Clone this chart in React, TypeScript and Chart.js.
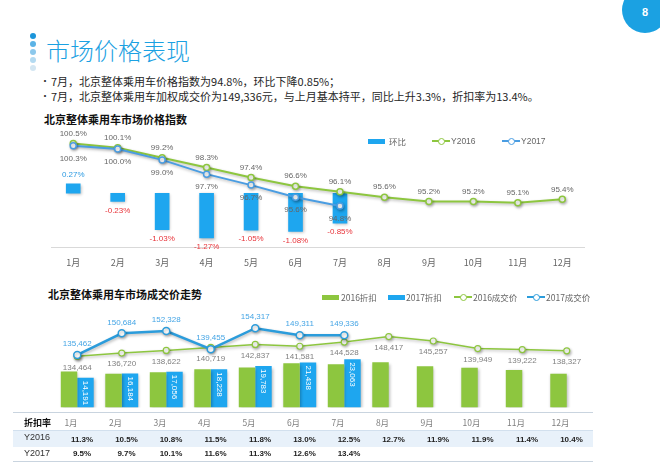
import React, { useEffect, useRef } from "react";
import { Chart, registerables } from "chart.js";
Chart.register(...registerables);

const months = ["1月", "2月", "3月", "4月", "5月", "6月", "7月", "8月", "9月", "10月", "11月", "12月"];
const index2016 = [100.5, 100.1, 99.2, 98.3, 97.4, 96.6, 96.1, 95.6, 95.2, 95.2, 95.1, 95.4];
const index2017 = [100.3, 100.0, 99.0, 97.7, 96.7, 95.6, 94.8];
const momChange = [0.27, -0.23, -1.03, -1.27, -1.05, -1.08, -0.85];
const price2016 = [134464, 136720, 138622, 140719, 142837, 141581, 144528, 148417, 145257, 139949, 139222, 138327];
const price2017 = [135462, 150684, 152328, 139455, 154317, 149311, 149336];
const discount2016 = [17130, 16040, 16780, 18290, 19110, 21160, 20650, 21590, 19620, 18900, 17910, 16060];
const discount2017 = [14191, 16184, 17056, 18228, 19783, 21438, 23063];
const rate2016 = ["11.3%", "10.5%", "10.8%", "11.5%", "11.8%", "13.0%", "12.5%", "12.7%", "11.9%", "11.9%", "11.4%", "10.4%"];
const rate2017 = ["9.5%", "9.7%", "10.1%", "11.6%", "11.3%", "12.6%", "13.4%"];

const FONT = "'Liberation Sans', Arial, 'Noto Sans CJK SC', sans-serif";
const CJK = "'Noto Sans CJK SC', 'Liberation Sans', sans-serif";

const GREEN = "#8DC63F";
const BLUE_BAR = "#1EA6EF";
const BLUE_LINE_TOP = "#4A9DE2";
const BLUE_LINE_BOT = "#2B9CDB";

const shadowPlugin = {
  id: "shadow",
  beforeDatasetDraw(chart: any) {
    const ctx = chart.ctx;
    ctx.save();
    ctx.shadowColor = "rgba(0,0,0,0.28)";
    ctx.shadowBlur = 3;
    ctx.shadowOffsetX = 1;
    ctx.shadowOffsetY = 1.5;
  },
  afterDatasetDraw(chart: any) {
    chart.ctx.restore();
  },
};

function TopChart() {
  const ref = useRef<HTMLCanvasElement>(null);
  useEffect(() => {
    const labels = {
      id: "labelsTop",
      afterDatasetsDraw(chart: any) {
        const ctx = chart.ctx;
        ctx.save();
        ctx.font = `8px ${FONT}`;
        ctx.textAlign = "center";
        ctx.textBaseline = "middle";
        chart.data.datasets.forEach((ds: any, i: number) => {
          const meta = chart.getDatasetMeta(i);
          meta.data.forEach((el: any, j: number) => {
            const v = ds.data[j];
            if (v == null) return;
            if (i === 0) {
              if (v >= 0) {
                ctx.fillStyle = "#2D9BE2";
                ctx.fillText(v.toFixed(2) + "%", el.x, el.y - 9);
              } else {
                ctx.fillStyle = "#E8343A";
                ctx.fillText(v.toFixed(2) + "%", el.x, el.y + 9);
              }
            } else if (i === 1) {
              ctx.fillStyle = "#666666";
              ctx.fillText(v.toFixed(1) + "%", el.x, el.y - 10);
            } else {
              ctx.fillStyle = "#666666";
              ctx.fillText(v.toFixed(1) + "%", el.x, el.y + 13);
            }
          });
        });
        ctx.restore();
      },
    };
    const chart = new Chart(ref.current!, {
      type: "bar",
      data: {
        labels: months,
        datasets: [
          {
            type: "bar",
            label: "环比",
            data: momChange,
            backgroundColor: BLUE_BAR,
            barThickness: 14,
            yAxisID: "yBar",
            order: 3,
          } as any,
          {
            type: "line",
            label: "Y2016",
            data: index2016,
            borderColor: GREEN,
            borderWidth: 2,
            backgroundColor: "#ffffff",
            pointBackgroundColor: "#ffffff",
            pointBorderColor: GREEN,
            pointBorderWidth: 1.5,
            pointRadius: 3,
            tension: 0,
            yAxisID: "yLine",
            order: 2,
          },
          {
            type: "line",
            label: "Y2017",
            data: index2017,
            borderColor: BLUE_LINE_TOP,
            borderWidth: 2,
            backgroundColor: "#ffffff",
            pointBackgroundColor: "#ffffff",
            pointBorderColor: BLUE_LINE_TOP,
            pointBorderWidth: 1.5,
            pointRadius: 3,
            tension: 0,
            yAxisID: "yLine",
            order: 1,
          },
        ],
      },
      options: {
        responsive: false,
        animation: false,
        devicePixelRatio: 1,
        layout: { padding: { left: 51, right: 75.5, top: 5, bottom: 0 } },
        plugins: { legend: { display: false }, tooltip: { enabled: false } },
        scales: {
          x: {
            offset: true,
            grid: { display: false, drawTicks: false },
            border: { display: true, color: "#D9D9D9", width: 1 },
            ticks: { color: "#666666", font: { size: 9, family: CJK }, padding: 10 },
            afterFit: (axis: any) => {
              axis.height = 33;
            },
          },
          yBar: { display: false, min: -1.525, max: 1.921 },
          yLine: { display: false, min: 91.05, max: 102.14 },
        },
      } as any,
      plugins: [shadowPlugin, labels],
    });
    return () => chart.destroy();
  }, []);
  return (
    <canvas
      ref={ref}
      width={660}
      height={160}
      style={{ position: "absolute", left: 0, top: 120, width: 660, height: 160 }}
    />
  );
}

function BottomChart() {
  const ref = useRef<HTMLCanvasElement>(null);
  useEffect(() => {
    const labels = {
      id: "labelsBottom",
      afterDatasetsDraw(chart: any) {
        const ctx = chart.ctx;
        ctx.save();
        ctx.textBaseline = "middle";
        chart.data.datasets.forEach((ds: any, i: number) => {
          const meta = chart.getDatasetMeta(i);
          meta.data.forEach((el: any, j: number) => {
            const v = ds.data[j];
            if (v == null) return;
            const txt = v.toLocaleString("en-US");
            if (i === 1) {
              ctx.save();
              ctx.font = `8px ${FONT}`;
              ctx.fillStyle = "#ffffff";
              ctx.textAlign = "left";
              ctx.translate(el.x, el.y + 3);
              ctx.rotate(Math.PI / 2);
              ctx.fillText(txt, 0, 0);
              ctx.restore();
            } else if (i === 2) {
              ctx.font = `8px ${FONT}`;
              ctx.textAlign = "center";
              ctx.fillStyle = "#808080";
              ctx.fillText(txt, el.x, el.y + 11);
            } else if (i === 3) {
              ctx.font = `8px ${FONT}`;
              ctx.textAlign = "center";
              ctx.fillStyle = "#45A5E5";
              ctx.fillText(txt, el.x, el.y - 11);
            }
          });
        });
        ctx.restore();
      },
    };
    const chart = new Chart(ref.current!, {
      type: "bar",
      data: {
        labels: months,
        datasets: [
          {
            type: "bar",
            label: "2016折扣",
            data: discount2016,
            backgroundColor: GREEN,
            categoryPercentage: 0.74,
            barPercentage: 1,
            yAxisID: "yBar",
            order: 3,
          } as any,
          {
            type: "bar",
            label: "2017折扣",
            data: discount2017,
            backgroundColor: BLUE_BAR,
            categoryPercentage: 0.74,
            barPercentage: 1,
            yAxisID: "yBar",
            order: 3,
          } as any,
          {
            type: "line",
            label: "2016成交价",
            data: price2016,
            borderColor: GREEN,
            borderWidth: 1.5,
            pointBackgroundColor: "#ffffff",
            pointBorderColor: GREEN,
            pointBorderWidth: 1.2,
            pointRadius: 3,
            tension: 0,
            yAxisID: "yLine",
            order: 2,
          },
          {
            type: "line",
            label: "2017成交价",
            data: price2017,
            borderColor: BLUE_LINE_BOT,
            borderWidth: 2.5,
            pointBackgroundColor: "#ffffff",
            pointBorderColor: BLUE_LINE_BOT,
            pointBorderWidth: 1.5,
            pointRadius: 3.5,
            tension: 0,
            yAxisID: "yLine",
            order: 1,
          },
        ],
      },
      options: {
        responsive: false,
        animation: false,
        devicePixelRatio: 1,
        layout: { padding: { left: 55, right: 71, top: 5, bottom: 0 } },
        plugins: { legend: { display: false }, tooltip: { enabled: false } },
        scales: {
          x: { display: false, offset: true },
          yBar: { display: false, min: 0, max: 48650 },
          yLine: { display: false, min: 98330, max: 170330 },
        },
      } as any,
      plugins: [shadowPlugin, labels],
    });
    return () => chart.destroy();
  }, []);
  return (
    <canvas
      ref={ref}
      width={660}
      height={113}
      style={{ position: "absolute", left: 0, top: 300, width: 660, height: 113 }}
    />
  );
}

function LegendBar({ x, y, color }: { x: number; y: number; color: string }) {
  return (
    <div
      style={{
        position: "absolute",
        left: x,
        top: y - 2.5,
        width: 17,
        height: 5,
        background: color,
      }}
    />
  );
}

function LegendLine({ x, y, color }: { x: number; y: number; color: string }) {
  return (
    <div style={{ position: "absolute", left: x, top: y - 4, width: 18, height: 8 }}>
      <div style={{ position: "absolute", left: 0, top: 3, width: 18, height: 2, background: color }} />
      <div
        style={{
          position: "absolute",
          left: 5.5,
          top: 0.5,
          width: 5,
          height: 5,
          borderRadius: "50%",
          background: "#fff",
          border: `1.2px solid ${color}`,
        }}
      />
    </div>
  );
}

function Txt({
  x,
  y,
  children,
  size = 9,
  color = "#595959",
  weight = 400,
  family = CJK,
  align = "left",
}: any) {
  const style: any = {
    position: "absolute",
    top: y,
    transform: align === "center" ? "translate(-50%, -50%)" : "translate(0, -50%)",
    left: x,
    fontSize: size,
    color,
    fontWeight: weight,
    fontFamily: family,
    whiteSpace: "nowrap",
    lineHeight: 1,
  };
  return <div style={style}>{children}</div>;
}

export default function App() {
  const dotColors = ["#1B95DA", "#5BB3E6", "#8CC8EC", "#B3DAF1", "#D3E6F2"];
  const colW = 44.5;
  return (
    <div
      style={{
        position: "fixed",
        left: 0,
        top: 0,
        width: 660,
        height: 466,
        background: "#ffffff",
        overflow: "hidden",
        fontFamily: CJK,
      }}
    >
      {/* page number */}
      <div
        style={{
          position: "absolute",
          left: 622,
          top: -13,
          width: 46,
          height: 46,
          borderRadius: "50%",
          background: "#1BA1E2",
        }}
      />
      <Txt x={645} y={12} size={11} color="#ffffff" weight={700} family={FONT} align="center">
        8
      </Txt>

      {/* title dots */}
      {dotColors.map((c, i) => (
        <div
          key={i}
          style={{
            position: "absolute",
            left: 30,
            top: 33 + i * 8,
            width: 6,
            height: 6,
            borderRadius: "50%",
            background: c,
          }}
        />
      ))}
      <Txt x={46} y={50} size={24} color="#1BA1E2" weight={300}>
        市场价格表现
      </Txt>

      {/* bullets */}
      <Txt x={40} y={81} size={10} color="#333">
        •
      </Txt>
      <Txt x={51} y={81} size={11} color="#262626">
        7月，北京整体乘用车价格指数为94.8%，环比下降0.85%；
      </Txt>
      <Txt x={40} y={96} size={10} color="#333">
        •
      </Txt>
      <Txt x={51} y={96} size={11} color="#262626">
        7月，北京整体乘用车加权成交价为149,336元，与上月基本持平，同比上升3.3%，折扣率为13.4%。
      </Txt>

      {/* top chart */}
      <Txt x={44} y={119} size={11} color="#111" weight={700}>
        北京整体乘用车市场价格指数
      </Txt>
      <TopChart />
      <LegendBar x={368} y={141} color={BLUE_BAR} />
      <Txt x={389} y={141} size={8.5} color="#666">
        环比
      </Txt>
      <LegendLine x={432} y={141} color={GREEN} />
      <Txt x={451} y={141} size={8.5} color="#666" family={FONT}>
        Y2016
      </Txt>
      <LegendLine x={502} y={141} color={BLUE_LINE_TOP} />
      <Txt x={521} y={141} size={8.5} color="#666" family={FONT}>
        Y2017
      </Txt>

      {/* bottom chart */}
      <Txt x={48} y={294} size={11} color="#111" weight={700}>
        北京整体乘用车市场成交价走势
      </Txt>
      <BottomChart />
      <LegendBar x={322} y={297} color={GREEN} />
      <Txt x={341} y={297} size={8.5} color="#666">
        2016折扣
      </Txt>
      <LegendBar x={388} y={297} color={BLUE_BAR} />
      <Txt x={406} y={297} size={8.5} color="#666">
        2017折扣
      </Txt>
      <LegendLine x={454} y={297} color={GREEN} />
      <Txt x={473} y={297} size={8.5} color="#666">
        2016成交价
      </Txt>
      <LegendLine x={527} y={297} color={BLUE_LINE_BOT} />
      <Txt x={546} y={297} size={8.5} color="#666">
        2017成交价
      </Txt>

      {/* table */}
      <div style={{ position: "absolute", left: 13, top: 412, width: 580, height: 1, background: "#C9D4DF" }} />
      <div style={{ position: "absolute", left: 13, top: 430, width: 580, height: 17, background: "#E8F1FA" }} />
      <div style={{ position: "absolute", left: 13, top: 430, width: 580, height: 1, background: "#D2E0EE" }} />
      <div style={{ position: "absolute", left: 13, top: 461, width: 580, height: 1, background: "#C9D4DF" }} />
      <Txt x={24} y={422} size={9} color="#111" weight={700}>
        折扣率
      </Txt>
      <Txt x={24} y={437} size={9} color="#333" family={FONT}>
        Y2016
      </Txt>
      <Txt x={24} y={453} size={9} color="#333" family={FONT}>
        Y2017
      </Txt>
      {months.map((m, i) => (
        <Txt key={"m" + i} x={71 + i * colW} y={422} size={8.5} color="#7F7F7F" align="center">
          {m}
        </Txt>
      ))}
      {rate2016.map((r, i) => (
        <Txt key={"a" + i} x={82 + i * colW} y={440} size={8} color="#222" weight={700} family={FONT} align="center">
          {r}
        </Txt>
      ))}
      {rate2017.map((r, i) => (
        <Txt key={"b" + i} x={82 + i * colW} y={454} size={8} color="#222" weight={700} family={FONT} align="center">
          {r}
        </Txt>
      ))}
    </div>
  );
}
